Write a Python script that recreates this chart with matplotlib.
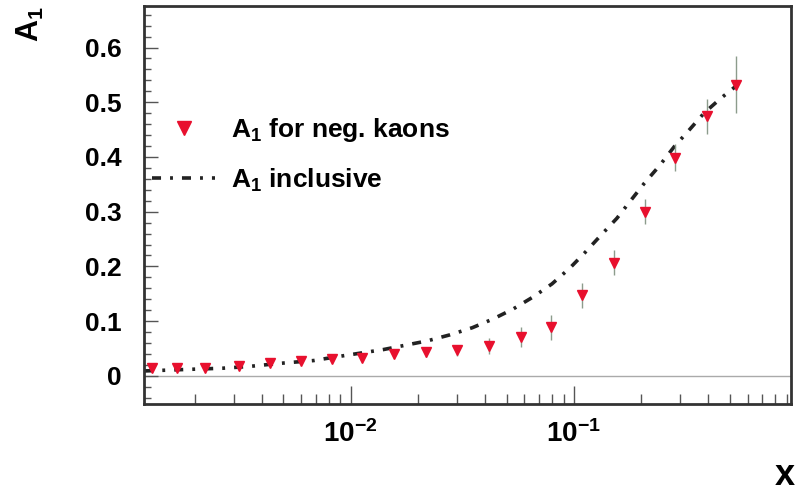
import matplotlib
matplotlib.use('Agg')
import matplotlib.pyplot as plt
from matplotlib.ticker import FixedLocator, MultipleLocator, LogLocator, NullFormatter, FuncFormatter
import numpy as np

plt.rcParams['font.family'] = 'Liberation Sans'
plt.rcParams['font.weight'] = 'bold'
plt.rcParams['mathtext.fontset'] = 'custom'
plt.rcParams['mathtext.rm'] = 'Liberation Sans:bold'
plt.rcParams['mathtext.it'] = 'Liberation Sans:bold'
plt.rcParams['mathtext.bf'] = 'Liberation Sans:bold'

# kaon asymmetry points
x_vals = [0.00129, 0.00167, 0.00223, 0.00315, 0.00435, 0.00598, 0.00827, 0.0113,
          0.0157, 0.0218, 0.0300, 0.0418, 0.0577, 0.0789, 0.1086, 0.151,
          0.209, 0.285, 0.395, 0.535]
a1_kaons = [0.014, 0.014, 0.015, 0.018, 0.023, 0.028, 0.030, 0.033,
            0.040, 0.044, 0.047, 0.055, 0.071, 0.089, 0.147, 0.207,
            0.300, 0.399, 0.474, 0.532]
a1_err = [0.005, 0.005, 0.005, 0.005, 0.005, 0.006, 0.006, 0.007,
          0.008, 0.009, 0.010, 0.015, 0.018, 0.023, 0.023, 0.023,
          0.023, 0.024, 0.032, 0.052]

# inclusive curve, sampled along the drawn line
x_incl = [0.00119, 0.00134, 0.00193, 0.00268, 0.00347, 0.00487, 0.00684, 0.0084,
          0.0140, 0.0221, 0.0279, 0.0351, 0.0435, 0.0534, 0.0656, 0.0798,
          0.0960, 0.112, 0.133, 0.156, 0.178, 0.207, 0.242, 0.282,
          0.330, 0.385, 0.458, 0.535]
a1_incl = [0.009, 0.0097, 0.012, 0.014, 0.017, 0.023, 0.028, 0.034,
           0.048, 0.064, 0.075, 0.088, 0.104, 0.122, 0.144, 0.168,
           0.197, 0.225, 0.258, 0.288, 0.318, 0.352, 0.384, 0.419,
           0.450, 0.481, 0.508, 0.530]

fig = plt.figure(figsize=(7.97, 4.93), dpi=100)
ax = fig.add_axes([0.181, 0.181, 0.8115, 0.807])

ax.axhline(0, color='#aaaaaa', lw=1.0, zorder=1)

line_incl, = ax.plot(x_incl, a1_incl, color='#222222', lw=2.6,
                     linestyle=(0, (2.5, 2.5, 0.8, 2.5)), zorder=2)
ax.errorbar(x_vals, a1_kaons, yerr=a1_err, fmt='none', ecolor='#8c9c8c',
            elinewidth=1.0, capsize=0, zorder=3)
pts, = ax.plot(x_vals, a1_kaons, 'v', color='#e8102e', ms=7, mec='#e8102e', zorder=4)

ax.set_xscale('log')
ax.set_xlim(0.00119, 0.94)
ax.set_ylim(-0.051, 0.676)

ax.xaxis.set_major_locator(FixedLocator([0.01, 0.1, 1]))
ax.xaxis.set_major_formatter(FuncFormatter(
    lambda v, p: '1' if v >= 1 else '$10^{%d}$' % round(np.log10(v))))
ax.xaxis.set_minor_locator(LogLocator(base=10, subs=np.arange(2, 10)))
ax.xaxis.set_minor_formatter(NullFormatter())

ax.yaxis.set_major_locator(FixedLocator([0, 0.1, 0.2, 0.3, 0.4, 0.5, 0.6]))
ax.yaxis.set_major_formatter(FuncFormatter(lambda v, p: '0' if abs(v) < 1e-9 else '%.1f' % v))
ax.yaxis.set_minor_locator(MultipleLocator(0.02))

ax.tick_params(axis='both', which='both', direction='in', top=False, right=False,
               labelsize=19, color='#555555')
ax.tick_params(axis='x', which='major', length=13, width=1, pad=12, labelsize=20)
ax.tick_params(axis='x', which='minor', length=7, width=1)
ax.tick_params(axis='y', which='major', length=10, width=1, pad=16)
ax.tick_params(axis='y', which='minor', length=5, width=1)

for s in ax.spines.values():
    s.set_linewidth(2)
    s.set_color('#333333')

ax.legend([pts, line_incl], ['A$_1$ for neg. kaons', 'A$_1$ inclusive'],
          loc='center left', bbox_to_anchor=(0.012, 0.626), frameon=False,
          fontsize=19, handlelength=2.4, labelspacing=0.85, handletextpad=0.6,
          borderpad=0, borderaxespad=0, markerscale=1.5)

fig.text(0.038, 0.95, 'A$_1$', rotation=90, fontsize=22, ha='center', va='center')
fig.text(0.985, 0.035, 'x', fontsize=26, ha='center', va='center')

fig.savefig('out.png', dpi=100)
